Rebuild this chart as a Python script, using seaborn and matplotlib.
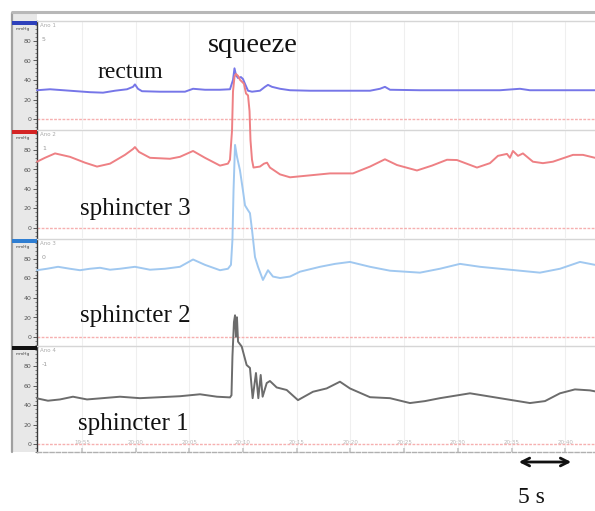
import numpy as np
import pandas as pd
import seaborn as sns
import matplotlib.pyplot as plt
from matplotlib.patches import Rectangle, FancyArrowPatch
from matplotlib.lines import Line2D
from matplotlib.ticker import MultipleLocator

# ---------------- data (time in s from 19:55, pressure in mmHg) ----------------
rectum_t = [-4.19, -2.98, -1.12, 0.74, 1.96, 3.07, 4.19, 4.75, 4.93, 5.21, 5.59, 7.26, 9.59,
            10.34, 11.45, 12.85, 13.78, 14.06, 14.20, 14.34, 14.53, 14.80, 14.99, 15.18, 15.46,
            15.83, 16.57, 17.04, 17.32, 17.69, 18.44, 19.37, 21.23, 24.02, 26.82, 27.75, 28.21,
            28.68, 31.47, 35.20, 38.92, 40.78, 41.71, 44.51, 47.77]
rectum_p = [29.5, 30.5, 29, 27.5, 27, 29, 30.5, 33, 35.5, 31, 28.5, 28, 28,
            31, 30, 30, 30.5, 40, 52, 45, 42, 43, 41, 36, 29,
            28, 29, 33, 35, 33, 31, 29.5, 29, 29, 29, 31, 33,
            30, 29.5, 29.5, 29.5, 31, 29.5, 29.5, 29.5]

sph3_t = [-4.19, -3.45, -2.51, -1.12, 0.28, 1.40, 2.61, 4.00, 4.75, 4.93, 5.31, 6.33, 8.19,
          9.12, 10.34, 11.45, 12.85, 13.59, 13.78, 13.97, 14.06, 14.20, 14.34, 14.53, 14.71,
          14.90, 15.08, 15.27, 15.46, 15.60, 15.69, 15.83, 15.97, 16.57, 16.95, 17.23, 17.50,
          18.44, 19.37, 21.23, 23.09, 25.23, 26.82, 28.21, 29.33, 31.19, 32.59, 33.99, 34.92,
          36.78, 37.99, 38.73, 39.57, 39.85, 40.13, 40.60, 41.06, 41.99, 42.92, 43.85, 45.72,
          46.65, 47.77]
sph3_p = [68, 72, 76.5, 73, 67, 63, 66, 75, 81, 83, 78, 72, 71,
          73, 79, 72, 64, 66, 70, 100, 140, 155, 158, 156, 152,
          150, 148, 138, 136, 120, 90, 70, 62, 63, 66, 67, 62,
          55, 52, 54, 56, 56, 63, 70.5, 64.6, 59, 64, 70, 69.7,
          62, 66.5, 74, 76, 72, 79, 74, 76.5, 68, 66.5, 68, 75,
          75, 72]

sph2_t = [-4.19, -3.26, -2.23, -1.12, -0.19, 0.74, 1.68, 2.61, 3.54, 4.93, 6.33, 7.73, 9.12,
          10.34, 11.45, 12.85, 13.59, 13.87, 14.01, 14.11, 14.25, 14.43, 14.71, 14.99, 15.18,
          15.46, 15.64, 15.83, 16.11, 16.39, 16.85, 17.32, 17.78, 18.44, 19.37, 20.30, 22.16,
          23.56, 24.95, 26.82, 28.68, 31.47, 33.33, 35.20, 37.06, 38.92, 40.78, 42.64, 44.51,
          46.37, 47.77]
sph2_p = [68.5, 70, 72, 70, 68.5, 70, 71, 69, 70, 72, 69, 70, 72,
          79.5, 74, 68.5, 70, 74, 100, 150, 197, 185, 171, 150, 135,
          130, 127, 110, 82, 72, 58.5, 68.5, 62, 60.5, 62, 67, 72,
          75, 77, 72, 68, 66, 70, 75, 72, 70, 68, 66, 70,
          77, 74]

sph1_t = [-4.19, -3.17, -2.05, -0.84, 0.47, 1.68, 3.54, 5.40, 7.26, 9.12, 10.99, 12.57, 13.78,
          13.92, 14.01, 14.15, 14.25, 14.34, 14.43, 14.53, 14.87, 15.33, 15.64, 15.89, 16.20,
          16.42, 16.64, 16.82, 17.20, 17.50, 18.13, 19.06, 20.11, 21.51, 22.78, 24.02, 24.95,
          26.82, 28.68, 30.54, 31.94, 33.33, 36.13, 38.92, 41.71, 43.11, 44.51, 45.90, 47.30,
          47.77]
sph1_p = [46.8, 44.4, 45.7, 48.5, 45.7, 46.8, 48.5, 47, 48, 49, 51, 48.5, 47.8,
          50, 90, 125, 132, 110, 130, 105, 100, 81, 78, 47, 72.8,
          47, 70.8, 48.5, 62.5, 64.6, 58, 55.4, 45, 53.6, 57, 63.9, 57,
          48, 47, 42, 44, 47, 52, 47, 42, 44, 52, 56, 55,
          54]

tick_sec = [0, 5, 10, 15, 20, 25, 30, 35, 40, 45]
tick_lab = ['19:55', '20:00', '20:05', '20:10', '20:15', '20:20', '20:25', '20:30', '20:35', '20:40']

channels = ['Ano 1', 'Ano 2', 'Ano 3', 'Ano 4']
chan_vals = ['5', '1', '0', '-1']
names = ['rectum', 'sphincter 3', 'sphincter 2', 'sphincter 1']

# ---------------- figure ----------------
sns.set_theme(style='white')
plt.rcParams['font.family'] = ['DejaVu Sans']

W, H = 595, 511
fig = plt.figure(figsize=(W / 100, H / 100), dpi=100)
fig.patch.set_facecolor('white')

def fx(x):
    return x / W

def fy(y):
    return 1 - y / H

# left strip + window border
fig.patches.append(Rectangle((fx(12), fy(452)), fx(37) - fx(12), (452 - 13) / H,
                             transform=fig.transFigure, facecolor='#e8e8e8', edgecolor='none', zorder=-5))
fig.add_artist(Line2D([fx(12), fx(12)], [fy(13), fy(452)], color='#a0a0a0', lw=1.6, zorder=-4))
fig.add_artist(Line2D([fx(12), fx(595)], [fy(12), fy(12)], color='#b8b8b8', lw=2.2, zorder=-4))

traces = [(rectum_t, rectum_p), (sph3_t, sph3_p), (sph2_t, sph2_p), (sph1_t, sph1_p)]
colors = ['#7676e8', '#ee8084', '#a0c8f0', '#6c6c6c']
bar_colors = ['#2d40bb', '#d42424', '#2f7ed2', '#111111']
zero_px = [119, 228, 337, 444]
ylims = [(-10.5, 100.5), (-10.5, 100.5), (-10.5, 100.5), (-8.5, 100.5)]
scale = 0.975  # px per mmHg

axes = []
for i in range(4):
    lo, hi = ylims[i]
    top = zero_px[i] - hi * scale
    h = (hi - lo) * scale
    ax = fig.add_axes([fx(37), 1 - (top + h) / H, fx(595) - fx(37), h / H])
    ax.set_facecolor('none')
    df = pd.DataFrame({'t': traces[i][0], 'p': traces[i][1]})
    sns.lineplot(data=df, x='t', y='p', ax=ax, color=colors[i], lw=1.4, zorder=5)
    for ln in ax.get_lines():
        ln.set_clip_on(False)
    ax.axhline(0, color='#f6b0b0', lw=1.0, ls=(0, (2, 1)), zorder=2)
    ax.set_xlim(-4.19, 47.77)
    ax.set_ylim(lo, hi)
    ax.set_xlabel('')
    ax.set_ylabel('')
    ax.set_xticks(tick_sec)
    ax.grid(axis='x', color='#efefef', lw=0.8)
    ax.set_yticks([0, 20, 40, 60, 80])
    ax.yaxis.set_minor_locator(MultipleLocator(4))
    ax.tick_params(axis='y', which='major', labelsize=4.5, labelcolor='#555555', length=3,
                   width=0.6, color='#444444', pad=1, left=True)
    ax.tick_params(axis='y', which='minor', length=1.5, width=0.5, color='#555555', left=True)
    ax.spines['right'].set_visible(False)
    ax.spines['left'].set_color('#3a3a3a')
    ax.spines['left'].set_linewidth(1.0)
    ax.spines['top'].set_color('#d6d6d6')
    ax.spines['top'].set_linewidth(1.0)
    if i < 3:
        ax.spines['bottom'].set_visible(False)
        ax.tick_params(axis='x', length=0, labelbottom=False)
    else:
        ax.spines['bottom'].set_color('#b0b0b0')
        ax.spines['bottom'].set_linestyle((0, (3, 1.5)))
        ax.spines['bottom'].set_linewidth(1.0)
        ax.set_xticklabels(tick_lab)
        ax.tick_params(axis='x', direction='in', length=3, color='#c8c8c8', pad=-9,
                       labelsize=4, labelcolor='#b8b8b8', bottom=True)
    axes.append(ax)

    # strip decorations
    fig.patches.append(Rectangle((fx(12), fy(top + 3.5)), fx(37) - fx(12), 3.5 / H,
                                 transform=fig.transFigure, facecolor=bar_colors[i],
                                 edgecolor='none', zorder=3))
    fig.text(fx(16), fy(top + 8), 'mmHg', fontsize=3.2, color='#444444', va='center', ha='left')
    fig.text(fx(40), fy(top + 4), channels[i], fontsize=4, color='#aaaaaa', va='center', ha='left')
    fig.text(fx(42), fy(top + 18), chan_vals[i], fontsize=4.5, color='#999999', va='center', ha='left')

serif = ['Liberation Serif', 'DejaVu Serif']
fig.text(fx(253), fy(45), 'squeeze', fontsize=20.5, family=serif, ha='center', va='center', color='#111111')
label_pos = [(130, 72), (135, 209), (135, 316), (133, 424)]
sizes = [17, 18, 18, 18]
for (x, y), nm, fs in zip(label_pos, names, sizes):
    fig.text(fx(x), fy(y), nm, fontsize=fs, family=serif, ha='center', va='center', color='#111111')

fig.add_artist(FancyArrowPatch((fx(516), fy(462)), (fx(574), fy(462)), transform=fig.transFigure,
                               arrowstyle='<->', mutation_scale=14, lw=2, color='#111111'))
fig.text(fx(531), fy(497), '5 s', fontsize=17, family=serif, ha='center', va='center', color='#111111')

fig.savefig('out.png', dpi=100)
